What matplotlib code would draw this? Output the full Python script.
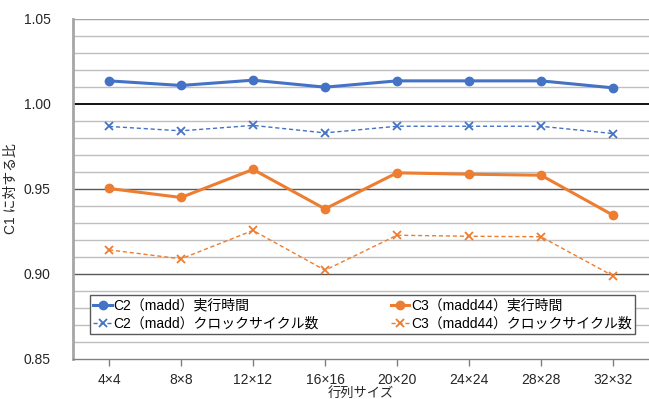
import matplotlib.pyplot as plt
import numpy as np

plt.rcParams['font.family'] = ['Liberation Sans', 'Noto Sans CJK JP']

sizes = ['4×4', '8×8', '12×12', '16×16', '20×20', '24×24', '28×28', '32×32']

c2_time = [1.0136, 1.0109, 1.0140, 1.0099, 1.0136, 1.0136, 1.0136, 1.0095]
c2_clock = [0.9868, 0.9842, 0.9874, 0.9830, 0.9869, 0.9869, 0.9869, 0.9826]
c3_time = [0.9503, 0.9450, 0.9615, 0.9383, 0.9595, 0.9587, 0.9581, 0.9346]
c3_clock = [0.9142, 0.9089, 0.9256, 0.9022, 0.9228, 0.9222, 0.9219, 0.8989]

blue = '#4472C4'
orange = '#ED7D31'

fig = plt.figure(figsize=(6.49, 3.99), dpi=100)
ax = fig.add_axes([0.1125, 0.1003, 0.8875, 0.8521])

x = np.arange(len(sizes))

# grid: light every 0.01, darker every 0.05, black at 1.00
for v in np.arange(0.86, 1.05, 0.01):
    if abs(v - 0.90) < 1e-6 or abs(v - 0.95) < 1e-6:
        ax.axhline(v, color='#595959', lw=1.0, zorder=1)
    elif abs(v - 1.00) < 1e-6:
        ax.axhline(v, color='black', lw=1.3, zorder=1)
    else:
        ax.axhline(v, color='#bfbfbf', lw=1.0, zorder=1)
ax.axhline(1.05, color='#a6a6a6', lw=1.6, zorder=1)

ax.plot(x, c2_time, color=blue, lw=2.2, marker='o', ms=6, label='C2（madd）実行時間', zorder=3)
ax.plot(x, c2_clock, color=blue, lw=1.0, ls=(0, (3, 2)), marker='x', ms=6, mew=1.3,
        label='C2（madd）クロックサイクル数', zorder=3)
ax.plot(x, c3_time, color=orange, lw=2.2, marker='o', ms=6, label='C3（madd44）実行時間', zorder=3)
ax.plot(x, c3_clock, color=orange, lw=1.0, ls=(0, (3, 2)), marker='x', ms=6, mew=1.3,
        label='C3（madd44）クロックサイクル数', zorder=3)

ax.set_xlim(-0.5, len(sizes) - 0.5)
ax.set_ylim(0.85, 1.05)
ax.set_yticks([0.85, 0.90, 0.95, 1.00, 1.05])
ax.set_yticklabels(['0.85', '0.90', '0.95', '1.00', '1.05'])
ax.set_xticks(x)
ax.set_xticklabels(sizes)
ax.tick_params(axis='y', length=0, pad=16, labelsize=10, labelcolor='#262626')
ax.tick_params(axis='x', length=5, direction='out', color='#808080', width=1,
               pad=5, labelsize=10, labelcolor='#262626')

for s in ['top', 'right']:
    ax.spines[s].set_visible(False)
ax.spines['left'].set_color('#a6a6a6')
ax.spines['left'].set_linewidth(2)
ax.spines['bottom'].set_color('#808080')
ax.spines['bottom'].set_linewidth(1)

ax.set_ylabel('C1 に対する比', fontsize=10, color='#262626', labelpad=4)
ax.set_xlabel('行列サイズ', fontsize=9.5, color='#262626', labelpad=0)

leg = ax.legend(ncol=2, loc='lower left', bbox_to_anchor=(0.0295, 0.0726, 0.9462, 0.1135),
                mode='expand', borderaxespad=0, fontsize=10, frameon=True, fancybox=False,
                edgecolor='#595959', framealpha=1, handlelength=1.3,
                handletextpad=0.1, borderpad=0.25, labelspacing=0.3)
leg.get_frame().set_linewidth(1)
leg.set_zorder(5)

fig.savefig('out.png', dpi=100)
